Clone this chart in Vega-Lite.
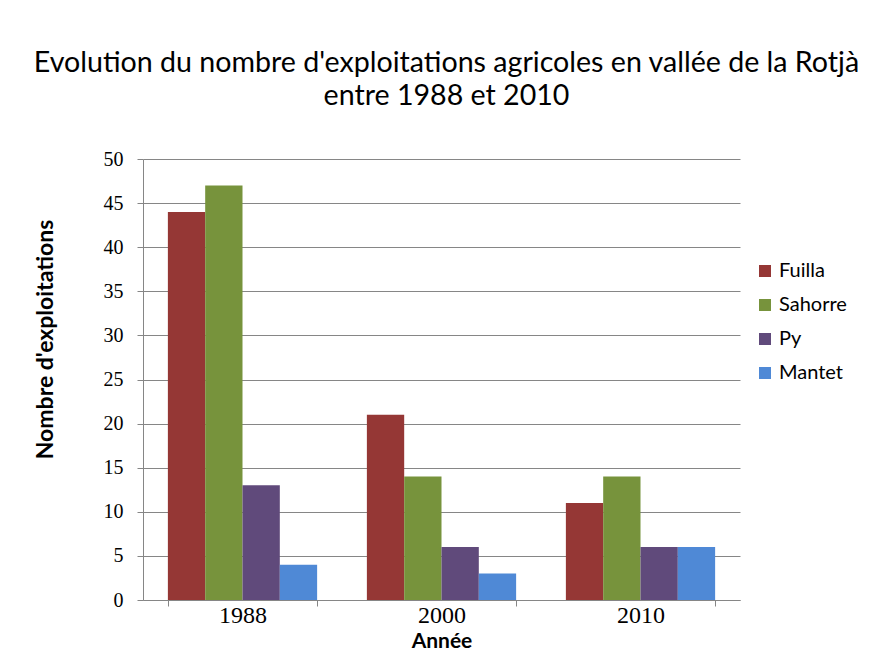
{
  "$schema": "https://vega.github.io/schema/vega-lite/v6.json",
  "width": 597,
  "height": 441,
  "autosize": {"type": "none"},
  "padding": {"left": 143, "top": 159, "right": 154, "bottom": 63},
  "background": "white",
  "title": {
    "text": ["Evolution du nombre d'exploitations agricoles en vallée de la Rotjà", "entre 1988 et 2010"],
    "font": "Lato",
    "fontSize": 28.6,
    "fontWeight": "normal",
    "color": "#000000",
    "lineHeight": 33,
    "offset": 38,
    "dx": 5
  },
  "data": {
    "values": [
      {"annee": "1988", "commune": "Fuilla", "n": 44},
      {"annee": "1988", "commune": "Sahorre", "n": 47},
      {"annee": "1988", "commune": "Py", "n": 13},
      {"annee": "1988", "commune": "Mantet", "n": 4},
      {"annee": "2000", "commune": "Fuilla", "n": 21},
      {"annee": "2000", "commune": "Sahorre", "n": 14},
      {"annee": "2000", "commune": "Py", "n": 6},
      {"annee": "2000", "commune": "Mantet", "n": 3},
      {"annee": "2010", "commune": "Fuilla", "n": 11},
      {"annee": "2010", "commune": "Sahorre", "n": 14},
      {"annee": "2010", "commune": "Py", "n": 6},
      {"annee": "2010", "commune": "Mantet", "n": 6}
    ]
  },
  "mark": {"type": "bar"},
  "encoding": {
    "x": {
      "field": "annee",
      "type": "nominal",
      "title": "Année",
      "scale": {"paddingInner": 0.25, "paddingOuter": 0.125},
      "axis": {
        "labelAngle": 0,
        "labelFont": "Liberation Serif",
        "labelFontSize": 24,
        "labelColor": "#000000",
        "labelPadding": -3,
        "titleFont": "Lato",
        "titleFontSize": 21,
        "titleFontWeight": "bold",
        "titleColor": "#000000",
        "titlePadding": 3,
        "domainColor": "#868686",
        "tickColor": "#868686",
        "tickBand": "extent",
        "tickSize": 6,
        "grid": false
      }
    },
    "xOffset": {
      "field": "commune",
      "type": "nominal",
      "sort": ["Fuilla", "Sahorre", "Py", "Mantet"],
      "scale": {"paddingInner": 0, "paddingOuter": 0}
    },
    "y": {
      "field": "n",
      "type": "quantitative",
      "title": "Nombre d'exploitations",
      "scale": {"domain": [0, 50], "nice": false},
      "axis": {
        "values": [0, 5, 10, 15, 20, 25, 30, 35, 40, 45, 50],
        "labelFont": "Liberation Serif",
        "labelFontSize": 20,
        "labelColor": "#000000",
        "labelPadding": 14,
        "titleFont": "Lato",
        "titleFontSize": 23,
        "titleFontWeight": "bold",
        "titleColor": "#000000",
        "titlePadding": 46,
        "titleY": 180,
        "domainColor": "#868686",
        "tickColor": "#868686",
        "tickSize": 6,
        "gridColor": "#868686",
        "gridWidth": 1
      }
    },
    "color": {
      "field": "commune",
      "type": "nominal",
      "sort": ["Fuilla", "Sahorre", "Py", "Mantet"],
      "scale": {
        "domain": ["Fuilla", "Sahorre", "Py", "Mantet"],
        "range": ["#953735", "#77933C", "#604A7B", "#4F89D6"]
      },
      "legend": {
        "title": null,
        "orient": "none",
        "legendX": 612,
        "legendY": 102,
        "symbolType": "square",
        "symbolSize": 144,
        "symbolStrokeWidth": 0,
        "labelFont": "Lato",
        "labelFontSize": 20,
        "labelColor": "#000000",
        "labelOffset": 4,
        "rowPadding": 14
      }
    }
  },
  "config": {
    "view": {"stroke": null}
  }
}
